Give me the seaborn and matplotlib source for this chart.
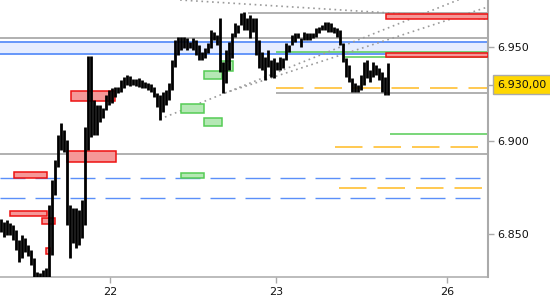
import numpy as np
import pandas as pd
import matplotlib
matplotlib.use("Agg")
import matplotlib.pyplot as plt
from matplotlib.patches import Rectangle
import seaborn as sns

# ---------------- data ----------------
highs = [6.8582, 6.8566, 6.8577, 6.8561, 6.8550, 6.8524, 6.8470, 6.8497, 6.8481, 6.8443,
         6.8417, 6.8374, 6.8299, 6.8294, 6.8310, 6.8320, 6.8657, 6.8791, 6.8898, 6.9032,
         6.9096, 6.9059, 6.9005, 6.8657, 6.8641, 6.8641, 6.8631, 6.8684, 6.9075, 6.9454,
         6.9454, 6.9219, 6.9192, 6.9192, 6.9176, 6.9246, 6.9273, 6.9283, 6.9289, 6.9289,
         6.9326, 6.9342, 6.9353, 6.9347, 6.9331, 6.9331, 6.9337, 6.9326, 6.9315, 6.9310,
         6.9305, 6.9289, 6.9257, 6.9246, 6.9262, 6.9273, 6.9310, 6.9433, 6.9540, 6.9556,
         6.9556, 6.9556, 6.9551, 6.9529, 6.9551, 6.9540, 6.9513, 6.9476, 6.9497, 6.9524,
         6.9594, 6.9583, 6.9567, 6.9658, 6.9422, 6.9487, 6.9529, 6.9577, 6.9631, 6.9620,
         6.9684, 6.9690, 6.9658, 6.9674, 6.9658, 6.9658, 6.9540, 6.9476, 6.9449, 6.9487,
         6.9433, 6.9444, 6.9422, 6.9449, 6.9444, 6.9524, 6.9513, 6.9567, 6.9577, 6.9577,
         6.9551, 6.9583, 6.9577, 6.9577, 6.9577, 6.9604, 6.9610, 6.9620, 6.9636, 6.9636,
         6.9631, 6.9610, 6.9604, 6.9594, 6.9524, 6.9444, 6.9406, 6.9337, 6.9310, 6.9299,
         6.9353, 6.9422, 6.9433, 6.9380, 6.9422, 6.9406, 6.9390, 6.9369, 6.9342, 6.9417]
lows = [6.8513, 6.8486, 6.8497, 6.8497, 6.8470, 6.8417, 6.8352, 6.8374, 6.8406, 6.8384,
        6.8336, 6.8256, 6.8256, 6.8256, 6.8256, 6.8256, 6.8256, 6.8390, 6.8711, 6.8861,
        6.8952, 6.8941, 6.8550, 6.8374, 6.8454, 6.8427, 6.8443, 6.8481, 6.8550, 6.8952,
        6.9021, 6.9032, 6.9032, 6.9101, 6.9123, 6.9166, 6.9192, 6.9203, 6.9235, 6.9257,
        6.9262, 6.9283, 6.9299, 6.9294, 6.9299, 6.9294, 6.9289, 6.9283, 6.9283, 6.9273,
        6.9262, 6.9235, 6.9182, 6.9112, 6.9155, 6.9192, 6.9219, 6.9273, 6.9396, 6.9460,
        6.9487, 6.9497, 6.9487, 6.9497, 6.9487, 6.9460, 6.9433, 6.9433, 6.9444, 6.9470,
        6.9497, 6.9540, 6.9513, 6.9369, 6.9257, 6.9310, 6.9380, 6.9444, 6.9556, 6.9577,
        6.9620, 6.9594, 6.9594, 6.9551, 6.9583, 6.9460, 6.9390, 6.9380, 6.9326, 6.9396,
        6.9342, 6.9337, 6.9380, 6.9380, 6.9390, 6.9433, 6.9476, 6.9513, 6.9529, 6.9551,
        6.9503, 6.9540, 6.9540, 6.9540, 6.9551, 6.9556, 6.9577, 6.9594, 6.9594, 6.9583,
        6.9583, 6.9577, 6.9556, 6.9513, 6.9422, 6.9342, 6.9315, 6.9262, 6.9262, 6.9262,
        6.9273, 6.9299, 6.9337, 6.9315, 6.9342, 6.9353, 6.9326, 6.9262, 6.9246, 6.9246]
bar_index = list(range(len(highs)))

x_tick_pos = [36.33, 91.67, 148.67]
x_tick_labels = ["22", "23", "26"]
y_ticks = [6.850, 6.900, 6.950]
y_tick_labels = ["6.850", "6.900", "6.950"]
last_price = 6.930
last_label = "6.930,00"

x_range = (-0.33, 162.33)
y_range = (6.8272, 6.9754)

# horizontal levels
gray_levels = [6.9551, 6.8930, 6.9682, 6.9257]
gray_starts = [-0.33, -0.33, 82.3, 91.7]
green_levels = [6.9474, 6.9447, 6.9037]
green_starts = [91.7, 114.0, 129.7]
blue_dash_levels = [6.8802, 6.8695]
orange_dash_levels = [6.9283, 6.8968, 6.8748]
orange_dash_starts = [91.7, 111.3, 112.7]
blue_band = (6.9465, 6.9529)

# zones
red_x0 = [23.3, 22.0, 4.3, 3.0, 13.7, 15.0, 128.3, 128.3]
red_x1 = [38.0, 38.3, 15.3, 15.3, 18.0, 16.3, 162.33, 162.33]
red_lo = [6.9214, 6.8887, 6.8802, 6.8598, 6.8556, 6.8395, 6.9652, 6.9449]
red_hi = [6.9267, 6.8946, 6.8834, 6.8625, 6.8588, 6.8427, 6.9679, 6.9470]
green_x0 = [60.0, 67.7, 67.7, 73.3, 60.0]
green_x1 = [67.7, 73.7, 73.7, 77.3, 67.7]
green_lo = [6.9150, 6.9080, 6.9331, 6.9374, 6.8802]
green_hi = [6.9198, 6.9123, 6.9374, 6.9428, 6.8829]

# dotted trend lines
trend_x0 = [53.0, 74.7, 59.7]
trend_y0 = [6.9117, 6.9257, 6.9754]
trend_x1 = [162.3, 162.3, 162.3]
trend_y1 = [6.9818, 6.9717, 6.9652]

# ---------------- plot ----------------
sns.set_style("white")
plt.rcParams["font.family"] = ["DejaVu Sans"]

fig = plt.figure(figsize=(5.5, 3.0), dpi=100)
ax = fig.add_axes([0.0, 23 / 300, 488 / 550, 277 / 300])

GRAY = "#aaaaaa"
BLUE = "#5b8ff9"
ORANGE = "#ffbb22"
GREEN = "#55cc55"
RED = "#ee1111"

# blue band
ax.axhspan(blue_band[0], blue_band[1], color="#e6edff", zorder=1, lw=0)
for lv in blue_band:
    ax.axhline(lv, color=BLUE, lw=1.3, zorder=2)

# gray levels
ax.hlines(gray_levels, gray_starts, x_range[1], color=GRAY, lw=1.3, zorder=2)
# green levels
ax.hlines(green_levels, green_starts, x_range[1], color=GREEN, lw=1.1, zorder=2)
# dashed levels
for lv in blue_dash_levels:
    ax.hlines(lv, x_range[0], x_range[1], color=BLUE, lw=1.0,
              linestyles=(0, (18, 7.2)), zorder=2)
for lv, st in zip(orange_dash_levels, orange_dash_starts):
    ax.hlines(lv, st, x_range[1], color=ORANGE, lw=1.1,
              linestyles=(0, (18, 7.2)), zorder=2)

# trend lines (dotted)
for a, b, c, d in zip(trend_x0, trend_y0, trend_x1, trend_y1):
    ax.plot([a, c], [b, d], color="#9a9a9a", lw=1.2, ls=(0, (1, 2.2)), zorder=2)

# zones
for a, b, lo, hi in zip(red_x0, red_x1, red_lo, red_hi):
    ax.add_patch(Rectangle((a, lo), b - a, hi - lo, facecolor="#f59898",
                           edgecolor=RED, lw=1.1, zorder=3))
for a, b, lo, hi in zip(green_x0, green_x1, green_lo, green_hi):
    ax.add_patch(Rectangle((a, lo), b - a, hi - lo, facecolor="#b5e8b5",
                           edgecolor=GREEN, lw=1.1, zorder=3))

# price bars (high-low)
df = pd.DataFrame({
    "bar": bar_index * 2,
    "x": bar_index * 2,
    "price": highs + lows,
})
sns.lineplot(data=df, x="x", y="price", units="bar", estimator=None,
             color="black", linewidth=2.0, sort=False, ax=ax, legend=False,
             zorder=5)
for ln in ax.lines[-len(bar_index):]:
    ln.set_solid_capstyle("butt")

ax.set_xlim(*x_range)
ax.set_ylim(*y_range)
ax.set_xlabel("")
ax.set_ylabel("")

ax.yaxis.tick_right()
ax.set_yticks(y_ticks + [last_price])
ax.set_yticklabels(y_tick_labels + [""])
ax.set_xticks(x_tick_pos)
ax.set_xticklabels(x_tick_labels)
ax.tick_params(axis="both", which="major", length=4, width=1.0, color=GRAY,
               labelsize=8, labelcolor="#111111", pad=3)
ax.tick_params(axis="y", right=True, left=False)
ax.tick_params(axis="x", bottom=True)
ax.yaxis.get_major_ticks()[-1].tick2line.set_color("black")

for side in ["top", "left"]:
    ax.spines[side].set_visible(False)
ax.spines["right"].set_color(GRAY)
ax.spines["right"].set_linewidth(1.5)
ax.spines["bottom"].set_color(GRAY)
ax.spines["bottom"].set_linewidth(1.1)

ax.annotate(last_label, xy=(1, last_price), xycoords=("axes fraction", "data"),
            xytext=(7.0, 0), textcoords="offset points", va="center", ha="left",
            fontsize=8, color="#111111", annotation_clip=False,
            bbox=dict(boxstyle="square,pad=0.4", fc="#ffd700", ec="#aaaaaa", lw=1.0))

fig.savefig("out.png", dpi=100)
